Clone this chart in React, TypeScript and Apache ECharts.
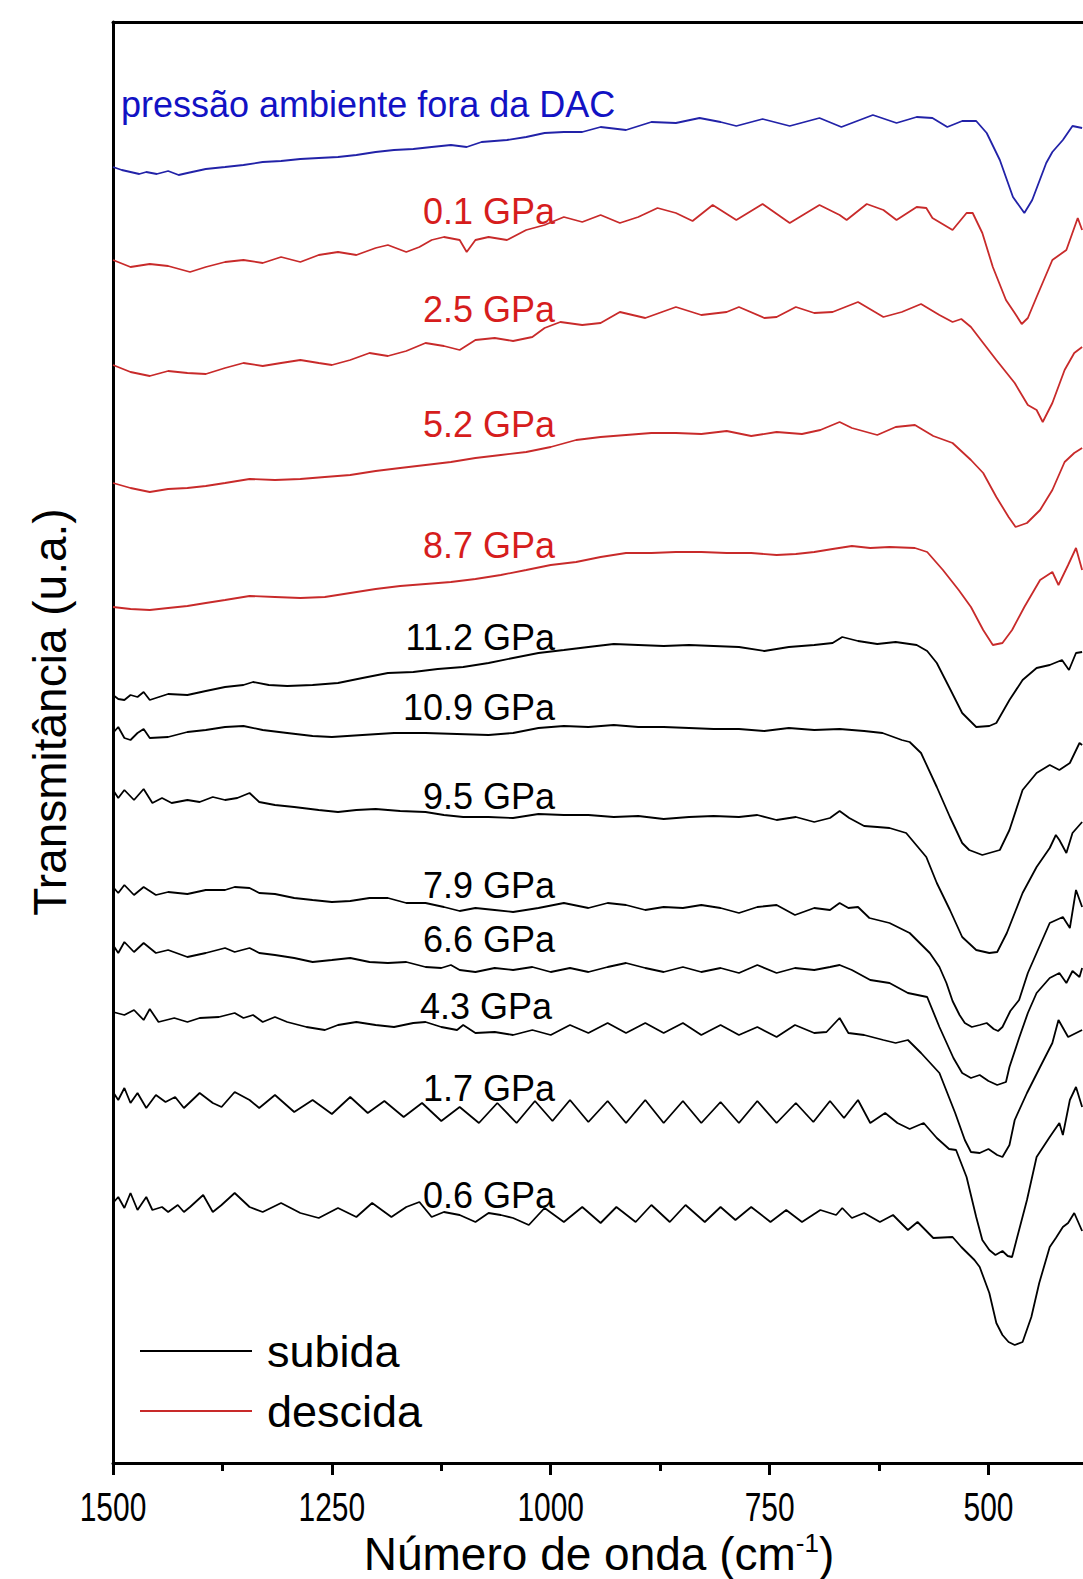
import React, { useEffect, useRef } from 'react';
import * as echarts from 'echarts';

// ---------------- data (x: wavenumber cm^-1, y: transmittance, arbitrary units) ----------------
const ambient = [[1500,1296],[1490,1293],[1480,1291],[1470,1289],[1462,1291],[1450,1289],[1437,1292],[1425,1288],[1415,1290],[1394,1294],[1372,1296],[1351,1298],[1329,1301],[1308,1302],[1286,1304],[1265,1305],[1243,1306],[1222,1308],[1200,1311],[1179,1313],[1157,1314],[1136,1316],[1114,1318],[1096,1316],[1079,1321],[1050,1323],[1028,1326],[1007,1330],[985,1331],[964,1331],[943,1336],[914,1333],[885,1341],[857,1340],[830,1345],[806,1341],[788,1337],[758,1344],[727,1337],[693,1345],[668,1336],[632,1348],[605,1340],[582,1346],[564,1345],[547,1336],[530,1342],[514,1342],[502,1330],[487,1303],[472,1266],[459,1250],[450,1263],[434,1300],[427,1311],[415,1323],[404,1337],[393,1335]];

const d01 = [[1500,1203],[1480,1196],[1458,1199],[1437,1197],[1412,1191],[1394,1196],[1372,1201],[1351,1203],[1329,1200],[1308,1206],[1286,1201],[1265,1208],[1243,1211],[1222,1208],[1200,1215],[1186,1218],[1165,1211],[1150,1216],[1136,1223],[1122,1226],[1104,1223],[1096,1211],[1086,1223],[1071,1226],[1050,1223],[1028,1233],[1007,1238],[985,1246],[964,1241],[943,1248],[921,1240],[900,1246],[878,1255],[857,1250],[838,1242],[815,1258],[788,1243],[758,1259],[727,1240],[693,1258],[670,1248],[662,1243],[639,1259],[620,1253],[605,1243],[582,1256],[571,1255],[564,1245],[541,1233],[525,1250],[518,1250],[507,1230],[495,1196],[480,1163],[470,1150],[462,1139],[455,1145],[445,1166],[427,1203],[411,1213],[398,1245],[393,1233]];

const d25 = [[1500,1098],[1480,1091],[1458,1087],[1437,1092],[1415,1090],[1394,1089],[1372,1095],[1351,1100],[1329,1097],[1308,1100],[1286,1103],[1265,1100],[1250,1098],[1229,1103],[1207,1110],[1186,1107],[1165,1112],[1143,1120],[1122,1117],[1104,1113],[1086,1123],[1064,1125],[1043,1122],[1021,1126],[1007,1135],[989,1141],[964,1138],[943,1140],[921,1151],[892,1145],[857,1156],[828,1148],[799,1151],[785,1156],[756,1145],[742,1146],[720,1156],[699,1150],[678,1151],[649,1161],[620,1146],[599,1151],[577,1159],[556,1148],[541,1141],[531,1144],[520,1136],[506,1120],[491,1103],[470,1080],[455,1058],[445,1053],[438,1041],[427,1060],[413,1093],[402,1110],[393,1116]];

const d52 = [[1500,980],[1480,975],[1458,971],[1437,974],[1415,975],[1394,977],[1372,980],[1344,984],[1315,983],[1286,984],[1258,986],[1229,988],[1200,992],[1172,995],[1143,998],[1114,1001],[1086,1005],[1057,1008],[1028,1011],[1000,1016],[971,1023],[943,1026],[914,1028],[885,1030],[857,1030],[828,1029],[799,1032],[771,1027],[742,1031],[713,1029],[692,1033],[670,1041],[656,1035],[627,1028],[606,1036],[584,1038],[563,1027],[541,1020],[520,1003],[506,990],[491,966],[477,946],[469,936],[456,940],[441,953],[427,973],[413,1001],[402,1010],[393,1015]];

const d87 = [[1500,856],[1480,854],[1458,853],[1437,855],[1415,857],[1394,860],[1372,863],[1344,867],[1315,866],[1286,865],[1258,866],[1229,870],[1200,874],[1172,877],[1143,879],[1114,881],[1086,884],[1057,888],[1028,893],[1000,898],[971,901],[943,906],[914,910],[885,910],[857,911],[828,911],[799,910],[771,910],[742,908],[720,909],[699,911],[678,914],[656,917],[635,915],[613,916],[584,915],[570,911],[552,893],[534,873],[520,856],[506,833],[495,818],[484,820],[473,833],[459,856],[441,883],[427,891],[420,878],[409,898],[400,915],[393,893]];

const u112 = [[1500,768],[1494,764],[1487,763],[1480,768],[1472,766],[1465,771],[1458,763],[1437,769],[1415,768],[1394,772],[1372,776],[1351,778],[1340,781],[1322,778],[1301,777],[1272,778],[1243,780],[1215,785],[1186,790],[1157,791],[1129,794],[1100,796],[1071,800],[1043,805],[1014,810],[985,813],[957,816],[928,819],[900,818],[871,817],[842,818],[814,817],[785,816],[756,812],[728,816],[699,818],[678,820],[667,826],[649,822],[627,819],[606,821],[582,818],[570,812],[559,800],[545,776],[530,750],[514,736],[499,737],[491,740],[476,763],[461,783],[445,795],[430,798],[416,803],[408,793],[400,810],[393,811]];

const u109 = [[1500,730],[1494,736],[1487,725],[1480,723],[1472,730],[1465,734],[1458,725],[1437,726],[1415,731],[1394,733],[1372,736],[1351,737],[1329,733],[1301,730],[1272,727],[1250,726],[1215,728],[1179,730],[1143,730],[1107,729],[1071,728],[1043,730],[1014,735],[985,737],[957,736],[928,738],[900,736],[871,736],[842,735],[814,734],[785,734],[756,732],[728,735],[699,733],[670,734],[642,732],[621,730],[599,723],[590,721],[577,710],[559,676],[544,646],[530,620],[522,613],[507,608],[487,613],[476,633],[461,673],[445,690],[430,698],[419,693],[407,700],[396,720],[393,718]];

const u95 = [[1500,673],[1494,665],[1487,673],[1476,663],[1465,674],[1455,660],[1444,665],[1433,660],[1415,663],[1401,661],[1386,666],[1372,663],[1358,665],[1344,670],[1333,661],[1315,658],[1293,656],[1265,653],[1243,651],[1222,653],[1200,654],[1172,652],[1143,651],[1122,648],[1100,646],[1071,646],[1043,645],[1014,649],[985,648],[957,648],[928,646],[900,647],[871,644],[842,646],[814,647],[785,646],[764,648],[742,643],[720,646],[699,641],[681,645],[670,652],[659,645],[642,637],[627,636],[613,635],[594,630],[571,606],[559,580],[544,553],[530,526],[514,513],[499,510],[490,511],[479,530],[461,570],[445,596],[430,615],[423,628],[419,623],[411,610],[404,630],[393,641]];

const u79 = [[1500,576],[1494,570],[1487,578],[1476,568],[1465,576],[1451,568],[1437,571],[1415,569],[1394,573],[1372,573],[1361,576],[1344,575],[1333,570],[1315,569],[1293,565],[1272,563],[1250,561],[1229,562],[1207,565],[1186,565],[1165,560],[1143,560],[1122,556],[1104,552],[1086,555],[1064,553],[1043,551],[1014,555],[985,560],[957,555],[935,560],[914,558],[892,553],[871,556],[849,555],[828,558],[806,555],[785,550],[764,556],[742,558],[721,548],[699,555],[681,553],[670,560],[660,555],[649,556],[636,545],[613,540],[590,530],[567,510],[556,496],[548,480],[541,462],[533,448],[527,440],[519,436],[510,438],[502,440],[494,434],[489,432],[484,436],[475,452],[465,463],[455,490],[445,510],[430,540],[415,546],[407,535],[400,573],[393,556]];

const u66 = [[1500,518],[1494,510],[1487,521],[1476,511],[1465,520],[1451,510],[1437,513],[1415,506],[1394,510],[1372,515],[1361,511],[1344,515],[1333,510],[1315,508],[1293,505],[1272,501],[1250,503],[1229,505],[1207,501],[1186,500],[1165,501],[1143,496],[1125,495],[1114,498],[1104,493],[1086,491],[1064,495],[1043,493],[1021,496],[1000,491],[978,495],[957,491],[935,496],[914,500],[892,495],[871,491],[849,496],[828,491],[806,495],[785,490],[764,498],[742,490],[721,495],[699,493],[681,496],[670,498],[656,493],[635,483],[613,480],[592,470],[570,466],[556,436],[540,405],[530,390],[520,385],[510,388],[500,382],[490,378],[480,381],[476,396],[465,425],[455,450],[445,470],[430,485],[419,490],[411,480],[404,492],[396,486],[393,495]];

const u43 = [[1500,451],[1487,448],[1476,453],[1465,443],[1458,454],[1448,441],[1430,445],[1415,441],[1401,445],[1379,446],[1361,450],[1351,445],[1340,448],[1329,441],[1315,446],[1301,441],[1279,436],[1258,433],[1243,438],[1222,441],[1200,438],[1179,436],[1157,440],[1143,441],[1125,436],[1107,433],[1100,438],[1086,430],[1064,431],[1043,428],[1021,433],[1000,428],[978,438],[957,430],[935,440],[914,430],[892,440],[871,430],[849,440],[828,428],[806,438],[785,428],[764,436],[742,426],[721,438],[699,430],[685,431],[670,445],[660,430],[642,428],[620,423],[606,420],[592,423],[577,410],[556,390],[538,350],[527,323],[520,311],[510,310],[500,314],[490,308],[484,306],[476,318],[470,343],[456,370],[441,396],[427,420],[420,443],[409,426],[393,433]];

const u17 = [[1500,371],[1494,363],[1487,375],[1480,360],[1472,370],[1462,355],[1451,368],[1440,361],[1429,366],[1419,355],[1401,370],[1386,360],[1376,356],[1361,371],[1344,363],[1333,355],[1315,368],[1293,351],[1272,363],[1250,349],[1229,366],[1209,350],[1190,362],[1168,346],[1147,360],[1125,342],[1104,356],[1082,340],[1061,360],[1039,340],[1018,362],[998,342],[978,363],[957,341],[935,362],[914,340],[892,363],[871,340],[849,362],[828,340],[806,361],[785,340],[764,362],[742,340],[720,360],[700,341],[681,362],[665,345],[649,363],[635,340],[618,350],[604,340],[590,334],[574,340],[559,325],[545,314],[537,313],[525,286],[514,246],[507,223],[499,213],[492,208],[484,212],[478,207],[473,206],[468,223],[456,263],[445,306],[430,326],[419,340],[415,328],[407,363],[400,376],[393,356]];

const u06 = [[1500,260],[1494,266],[1487,255],[1480,270],[1472,253],[1462,266],[1455,253],[1444,256],[1437,251],[1426,258],[1419,251],[1412,256],[1397,268],[1386,251],[1376,258],[1361,270],[1344,256],[1329,251],[1308,260],[1286,250],[1265,245],[1243,255],[1222,246],[1204,260],[1182,246],[1165,256],[1150,261],[1136,246],[1122,251],[1104,248],[1086,241],[1071,250],[1057,248],[1043,245],[1025,238],[1007,255],[985,241],[964,256],[943,240],[925,256],[903,241],[885,258],[864,241],[846,258],[824,241],[806,256],[789,243],[771,256],[749,241],[731,253],[713,241],[692,253],[674,248],[667,255],[656,245],[642,250],[624,241],[609,248],[592,233],[581,241],[563,225],[541,226],[531,216],[516,203],[510,196],[499,170],[491,140],[484,128],[477,121],[470,118],[461,121],[451,146],[442,180],[430,216],[423,225],[415,236],[409,240],[402,250],[393,232]];

const majorTicks = [500, 750, 1000, 1250, 1500];
const minorTicks = [625, 875, 1125, 1375];

const ambientLabel = 'pressão ambiente fora da DAC';
const descidaSeries = [d01, d25, d52, d87];
const descidaLabels = ['0.1 GPa', '2.5 GPa', '5.2 GPa', '8.7 GPa'];
const subidaSeries = [u112, u109, u95, u79, u66, u43, u17, u06];
const subidaLabels = ['11.2 GPa', '10.9 GPa', '9.5 GPa', '7.9 GPa', '6.6 GPa', '4.3 GPa', '1.7 GPa', '0.6 GPa'];

// ---------------- styling ----------------
const FONT = "'Liberation Sans', Arial, Helvetica, sans-serif";
const BLUE_LINE = '#2222a8';
const BLUE_TEXT = '#1212c4';
const RED_LINE = '#c82a2a';
const RED_TEXT = '#d61d1d';
const BLACK = '#000000';

const descidaLabelY = [211, 309, 424, 545];
const subidaLabelY = [637, 707, 796, 885, 939, 1006, 1088, 1195];
const subidaLabelRight = [555, 555, 555, 555, 555, 552, 555, 555];

export default function App() {
  const ref = useRef<HTMLDivElement>(null);

  useEffect(() => {
    if (!ref.current) return;
    const chart = echarts.init(ref.current, null, { renderer: 'svg' });

    const lineSeries = (name: string, data: number[][], color: string) => ({
      type: 'line',
      name,
      data,
      symbol: 'none',
      showSymbol: false,
      silent: true,
      smooth: false,
      lineStyle: { color, width: 1.8 },
      itemStyle: { color },
      xAxisIndex: 0,
      yAxisIndex: 0,
    });

    const series: any[] = [];
    series.push(lineSeries('ambiente', ambient, BLUE_LINE));
    descidaSeries.forEach((d) => series.push(lineSeries('descida', d, RED_LINE)));
    subidaSeries.forEach((d) => series.push(lineSeries('subida', d, BLACK)));

    const baseX = { type: 'value', inverse: true, min: 392, max: 1500, splitLine: { show: false } };

    chart.setOption({
      animation: false,
      backgroundColor: '#ffffff',
      grid: { left: 113, right: 0, top: 22, bottom: 116, containLabel: false },
      xAxis: [
        {
          ...baseX,
          position: 'bottom',
          axisLine: { show: true, onZero: false, lineStyle: { color: BLACK, width: 3 } },
          axisTick: { show: true, inside: false, length: 12, customValues: majorTicks, lineStyle: { color: BLACK, width: 3 } },
          axisLabel: { show: false },
        },
        {
          ...baseX,
          position: 'bottom',
          axisLine: { show: false, onZero: false },
          axisTick: { show: true, inside: false, length: 8, customValues: minorTicks, lineStyle: { color: BLACK, width: 3 } },
          axisLabel: { show: false },
        },
        {
          ...baseX,
          position: 'top',
          axisLine: { show: true, onZero: false, lineStyle: { color: BLACK, width: 3 } },
          axisTick: { show: false },
          axisLabel: { show: false },
        },
      ],
      yAxis: {
        type: 'value',
        min: 0,
        max: 1441,
        axisLine: { show: true, onZero: false, lineStyle: { color: BLACK, width: 3 } },
        axisTick: { show: false },
        axisLabel: { show: false },
        splitLine: { show: false },
      },
      legend: {
        data: ['subida', 'descida'],
        orient: 'vertical',
        left: 140,
        top: 1327,
        padding: 0,
        icon: 'rect',
        itemWidth: 112,
        itemHeight: 2,
        itemGap: 12,
        selectedMode: false,
        textStyle: { fontSize: 45, fontFamily: FONT, color: BLACK, lineHeight: 48, padding: [0, 0, 0, 10] },
      },
      series,
    });

    const graphics: any[] = [];
    // tick labels (narrow, as in the reference), placed through the x axis scale
    majorTicks.forEach((v) => {
      const px = chart.convertToPixel({ xAxisIndex: 0 }, v) as number;
      graphics.push({
        type: 'text',
        x: px,
        y: 1507,
        scaleX: 0.73,
        style: { text: String(v), fill: BLACK, fontSize: 41, fontFamily: FONT, lineHeight: 38, align: 'center', verticalAlign: 'middle' },
      });
    });
    graphics.push({
      type: 'text',
      x: 121,
      y: 104,
      style: { text: ambientLabel, fill: BLUE_TEXT, fontSize: 36, fontFamily: FONT, align: 'left', verticalAlign: 'middle' },
    });
    descidaLabels.forEach((t, i) =>
      graphics.push({
        type: 'text',
        x: 555,
        y: descidaLabelY[i],
        style: { text: t, fill: RED_TEXT, fontSize: 36, fontFamily: FONT, align: 'right', verticalAlign: 'middle' },
      })
    );
    subidaLabels.forEach((t, i) =>
      graphics.push({
        type: 'text',
        x: subidaLabelRight[i],
        y: subidaLabelY[i],
        style: { text: t, fill: BLACK, fontSize: 36, fontFamily: FONT, align: 'right', verticalAlign: 'middle' },
      })
    );
    // y axis title
    graphics.push({
      type: 'text',
      x: 50,
      y: 712,
      rotation: Math.PI / 2,
      style: { text: 'Transmitância (u.a.)', fill: BLACK, fontSize: 46, fontFamily: FONT, align: 'center', verticalAlign: 'middle' },
    });
    // x axis title with superscript
    graphics.push({
      type: 'text',
      x: 599,
      y: 1554,
      style: {
        text: '{a|Número de onda (cm}{s|-1}{a|)}',
        align: 'center',
        verticalAlign: 'middle',
        rich: {
          a: { fontSize: 46, fontFamily: FONT, fill: BLACK, lineHeight: 48 },
          s: { fontSize: 26, fontFamily: FONT, fill: BLACK, lineHeight: 26, verticalAlign: 'top' },
        },
      },
    });

    chart.setOption({ graphic: graphics });

    return () => chart.dispose();
  }, []);

  return (
    <div
      ref={ref}
      style={{ position: 'fixed', left: 0, top: 0, width: 1083, height: 1579, background: '#fff' }}
    />
  );
}
